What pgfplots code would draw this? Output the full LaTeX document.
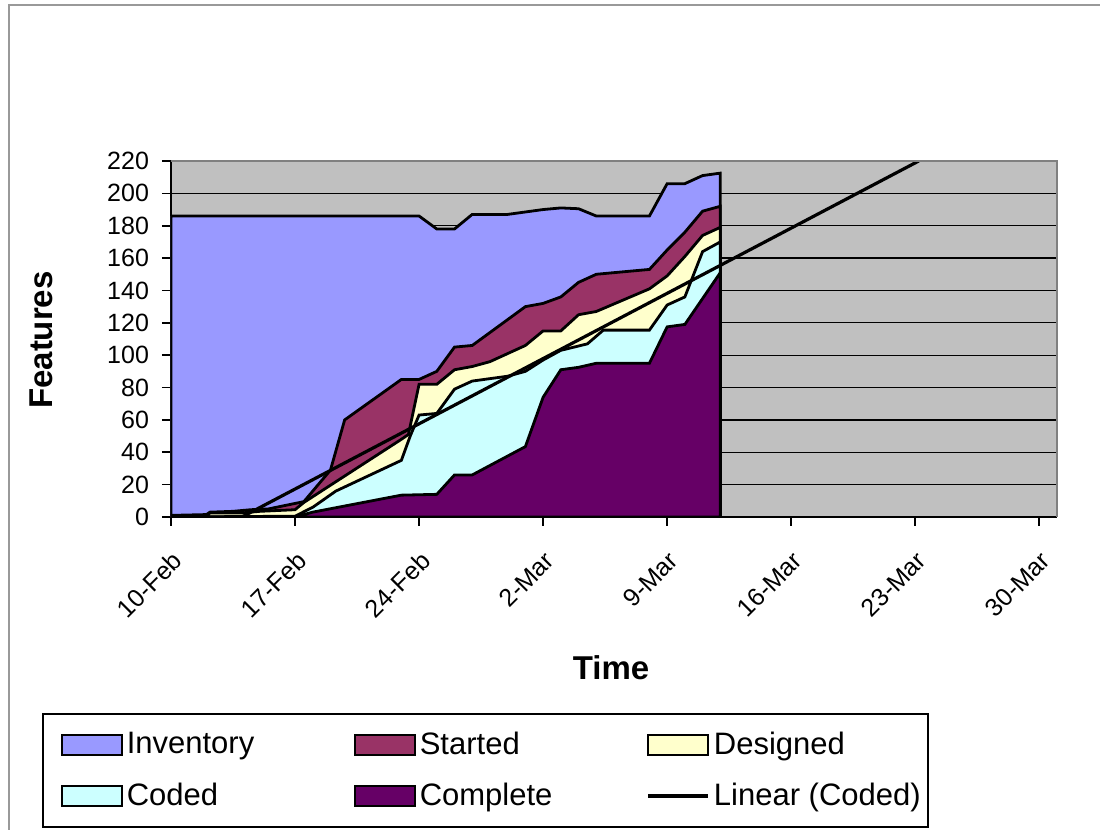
\documentclass[border=0pt]{standalone}
\usepackage{fontspec}
\setmainfont{Liberation Sans}
\usepackage{pgfplots}
\pgfplotsset{compat=1.18}
\definecolor{inv}{RGB}{153,153,255}
\definecolor{sta}{RGB}{153,51,102}
\definecolor{des}{RGB}{255,255,204}
\definecolor{cod}{RGB}{204,255,255}
\definecolor{com}{RGB}{102,0,102}
\definecolor{plotbg}{RGB}{192,192,192}
\pgfplotsset{
 arealegend/.style={legend image code/.code={\draw[##1, draw=black, line width=1pt] (0pt,-5pt) rectangle (30pt,5pt);}},
 linelegend/.style={legend image code/.code={\draw[##1] (0pt,0pt) -- (30pt,0pt);}}
}
\begin{document}
\begin{tikzpicture}
\path[use as bounding box] (-85.5pt,-156.5pt) rectangle (464.5pt,258.5pt);
\draw[gray!80, line width=1.2pt] (-81pt,-170pt) -- (-81pt,256pt) -- (480pt,256pt);
\begin{axis}[
 at={(0,0)}, anchor=south west, scale only axis,
 width=443pt, height=178pt,
 xmin=0, xmax=50, ymin=0, ymax=220,
 axis background/.style={fill=plotbg},
 axis x line*=bottom, axis y line*=left,
 axis line style={black, line width=1pt},
 tick align=outside, major tick length=4.5pt,
 tick style={black, line width=0.8pt},
 xtick={0,7,...,49},
 xticklabels={10-Feb,17-Feb,24-Feb,2-Mar,9-Mar,16-Mar,23-Mar,30-Mar},
 xticklabel style={rotate=45, anchor=north east, inner sep=2pt, font=\fontsize{12.5}{14}\selectfont},
 xticklabel shift=9pt,
 ytick={0,20,...,220},
 yticklabel style={font=\fontsize{12.5}{14}\selectfont, xshift=-3pt},
 ymajorgrids, grid style={black, line width=0.6pt},
 /pgf/number format/assume math mode=true,
 xlabel={Time}, ylabel={Features},
 label style={font=\bfseries\fontsize{16.5}{19}\selectfont},
 xlabel style={at={(axis description cs:0.4966,-0.424)}, anchor=center},
 ylabel style={at={(axis description cs:-0.146,0.497)}, anchor=center},
 legend columns=3, legend cell align=left,
 legend style={at={(-0.1456,-0.5506)}, anchor=north west, draw=black, line width=0.8pt,
   font=\fontsize{15.5}{18}\selectfont, inner xsep=9pt, inner ysep=7pt, row sep=9pt},
 after end axis/.code={\draw[gray, line width=0.8pt] (rel axis cs:0,1) -- (rel axis cs:1,1) -- (rel axis cs:1,0);}
]
% Inventory (cumulative top)
\addplot[fill=inv, draw=black, line width=1.4pt, arealegend] coordinates {
(0,186) (14,186) (15,178) (16,178) (17,187) (19,187) (21,190) (22,191) (23,190.5)
(24,186) (25,186) (27,186) (28,206) (29,206) (30,211) (31,212.5)} \closedcycle;
\addlegendentry{\makebox[111.5pt][l]{Inventory}}
% Started
\addplot[fill=sta, draw=black, line width=1.4pt, arealegend] coordinates {
(0,1) (2,1.5) (2.2,3) (3.5,3.5) (4.5,4.5) (5.5,5) (7.5,9.5) (9,29) (9.8,60) (13,85) (14,85)
(15,90) (16,105) (17,106) (18,114) (20,130) (21,132) (22,136) (23,145) (24,150) (25,151)
(27,153) (28,165) (29,176) (30,189) (31,192)} \closedcycle;
\addlegendentry{\makebox[111.5pt][l]{Started}}
% Designed
\addplot[fill=des, draw=black, line width=1.4pt, arealegend] coordinates {
(0,0) (2,0.5) (2.2,2.5) (4,2.5) (5,3.5) (7,4.5) (7.5,9) (13,48) (13.4,51) (14,82) (15,82)
(16,91) (17,93) (18,96) (20,106) (21,115) (22,115) (23,125) (24,127) (27,141) (28,149)
(29,161) (30,174) (31,179)} \closedcycle;
\addlegendentry{\makebox[96pt][l]{Designed}}
% Coded
\addplot[fill=cod, draw=black, line width=1.4pt, arealegend] coordinates {
(0,0) (7,0.5) (8,6) (9.3,16) (13,35) (13.5,50) (14,63) (15,64) (16,79) (17,84) (19,87)
(20,90) (21,97) (22,103) (23.5,107) (24.4,115.5) (27,115.5) (28,131) (29,136) (30,164)
(31,170)} \closedcycle;
\addlegendentry{\makebox[111.5pt][l]{Coded}}
% Complete
\addplot[fill=com, draw=black, line width=1.4pt, arealegend] coordinates {
(0,0) (7,0) (8,3) (13,13.5) (15,14) (16,26) (17,26) (20,43.5) (21,74) (22,91) (23,92.5)
(24,95) (27,95) (28,117.5) (29,119) (31,151)} \closedcycle;
\addlegendentry{\makebox[111.5pt][l]{Complete}}
% Linear trend of Coded
\addplot[black, line width=1.6pt, linelegend] coordinates {(4,0) (42.2,220)};
\addlegendentry{\makebox[96pt][l]{Linear (Coded)}}
\end{axis}
\end{tikzpicture}
\end{document}
